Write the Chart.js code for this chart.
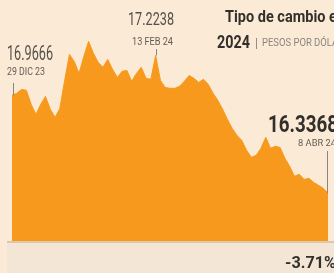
<!DOCTYPE html>
<html lang="es">
<head>
    <meta charset="UTF-8">
    <title>Tipo de cambio en 2024</title>
    <script src="https://cdn.jsdelivr.net/npm/chart.js"></script>
    <style>
        html, body { margin: 0; padding: 0; background: #fbead5; }
        #grafica { display: block; }
    </style>
</head>
<body>
    <canvas id="grafica" width="334" height="273"></canvas>

    <script>
        // Fechas (días hábiles) del 29 dic 23 al 8 abr 24
        var fechas = [
            '29 DIC 23',
            '2 ENE', '3 ENE', '4 ENE', '5 ENE', '8 ENE', '9 ENE', '10 ENE', '11 ENE', '12 ENE',
            '15 ENE', '16 ENE', '17 ENE', '18 ENE', '19 ENE', '22 ENE', '23 ENE', '24 ENE', '25 ENE', '26 ENE',
            '29 ENE', '30 ENE', '31 ENE',
            '1 FEB', '2 FEB', '6 FEB', '7 FEB', '8 FEB', '9 FEB', '12 FEB', '13 FEB 24', '14 FEB', '15 FEB', '16 FEB',
            '19 FEB', '20 FEB', '21 FEB', '22 FEB', '23 FEB', '26 FEB', '27 FEB', '28 FEB', '29 FEB',
            '1 MAR', '4 MAR', '5 MAR', '6 MAR', '7 MAR', '8 MAR', '11 MAR', '12 MAR', '13 MAR', '14 MAR', '15 MAR',
            '19 MAR', '20 MAR', '21 MAR', '22 MAR', '25 MAR', '26 MAR', '27 MAR',
            '1 ABR', '2 ABR', '3 ABR', '4 ABR', '5 ABR', '8 ABR 24'
        ];

        // Pesos por dólar
        var pesos = [
            16.9666,
            16.980, 17.005, 16.999, 16.909, 16.844, 16.909, 16.960, 16.877, 16.825,
            16.883, 17.063, 17.230, 17.185, 17.108, 17.217, 17.314, 17.237, 17.179, 17.147,
            17.198, 17.134, 17.082,
            17.121, 17.127, 17.057, 17.108, 17.147, 17.076, 17.070, 17.2238, 17.063, 17.018, 17.012,
            17.012, 17.025, 17.057, 17.095, 17.076, 17.050, 17.070, 17.037, 16.980,
            16.934, 16.877, 16.812, 16.754, 16.709, 16.677, 16.613, 16.568, 16.581, 16.626, 16.697,
            16.626, 16.639, 16.632, 16.562, 16.510, 16.446, 16.459,
            16.426, 16.433, 16.407, 16.388, 16.369, 16.3368
        ];

        // Valores destacados (índice en fechas, texto del valor, texto de la fecha)
        var destacados = [
            { i: 0,  valor: '16.9666', fecha: '29 DIC 23' },
            { i: 30, valor: '17.2238', fecha: '13 FEB 24' },
            { i: 66, valor: '16.3368', fecha: '8 ABR 24' }
        ];
        var variacion = '-3.71%';

        var fuente = "'Roboto', 'DejaVu Sans', sans-serif";

        // texto comprimido a lo ancho para imitar una tipografía condensada
        function texto(c, t, x, y, font, ancho) {
            c.font = font;
            var w = c.measureText(t).width;
            c.save();
            c.translate(x, y);
            c.scale(ancho / w, 1);
            c.fillText(t, 0, 0);
            c.restore();
        }

        var fondo = {
            id: 'fondo',
            beforeDraw: function(chart) {
                var c = chart.ctx;
                c.save();
                c.fillStyle = '#fbead5';
                c.fillRect(0, 0, chart.width, chart.height);
                // franja inferior
                c.fillStyle = '#f3e6d7';
                c.fillRect(7, 243, chart.width - 7, chart.height - 243);
                c.fillStyle = '#dfc8aa';
                c.fillRect(7, 241, chart.width - 7, 2);
                c.restore();
            }
        };

        var textos = {
            id: 'textos',
            afterDraw: function(chart) {
                var c = chart.ctx;
                var x = chart.scales.x, y = chart.scales.y;
                c.save();

                // líneas guía hacia los puntos destacados
                c.strokeStyle = '#8a8580';
                c.lineWidth = 1;
                var desde = [83, 49, 151];
                destacados.forEach(function(d, k) {
                    var px = Math.round(x.getPixelForValue(d.i)) + (k === 0 ? 1.5 : (k === 2 ? -0.5 : 0.5));
                    c.beginPath();
                    c.moveTo(px, desde[k]);
                    c.lineTo(px, y.getPixelForValue(pesos[d.i]));
                    c.stroke();
                });

                c.textBaseline = 'alphabetic';
                c.textAlign = 'left';

                // título
                c.fillStyle = '#33302c';
                texto(c, 'Tipo de cambio en', 225, 22, 'bold 16px ' + fuente, 120);
                texto(c, '2024', 217, 48, 'bold 19px ' + fuente, 33);
                c.fillStyle = '#8a847d';
                texto(c, '|', 255, 47, '12px ' + fuente, 3);
                texto(c, 'PESOS POR DÓLAR', 262, 46, '10px ' + fuente, 82);

                // valores
                c.fillStyle = '#55504b';
                texto(c, destacados[0].valor, 7, 60, '20px ' + fuente, 46);
                texto(c, destacados[1].valor, 128, 25, '18px ' + fuente, 46);
                c.fillStyle = '#625c56';
                texto(c, destacados[0].fecha, 7, 75, '10px ' + fuente, 38);
                texto(c, destacados[1].fecha, 132, 45, '10px ' + fuente, 41);

                c.fillStyle = '#33302c';
                texto(c, destacados[2].valor, 268, 132, 'bold 23px ' + fuente, 70);
                c.fillStyle = '#625c56';
                texto(c, destacados[2].fecha, 298, 146, '9px ' + fuente, 38);

                c.fillStyle = '#33302c';
                texto(c, variacion, 285, 268, 'bold 17px ' + fuente, 51);

                c.restore();
            }
        };

        var ctx = document.getElementById('grafica').getContext('2d');
        var grafica = new Chart(ctx, {
            type: 'line',
            data: {
                labels: fechas,
                datasets: [{
                    data: pesos,
                    fill: 'start',
                    backgroundColor: '#f7991d',
                    borderColor: '#f7991d',
                    borderWidth: 1,
                    pointRadius: 0,
                    tension: 0
                }]
            },
            options: {
                responsive: false,
                animation: false,
                layout: { padding: { left: 12, right: 6, top: 0, bottom: 32 } },
                plugins: { legend: { display: false }, tooltip: { enabled: false } },
                scales: {
                    x: { display: false, offset: false },
                    y: { display: false, min: 16.03, max: 17.58 }
                }
            },
            plugins: [fondo, textos]
        });
    </script>
</body>
</html>
